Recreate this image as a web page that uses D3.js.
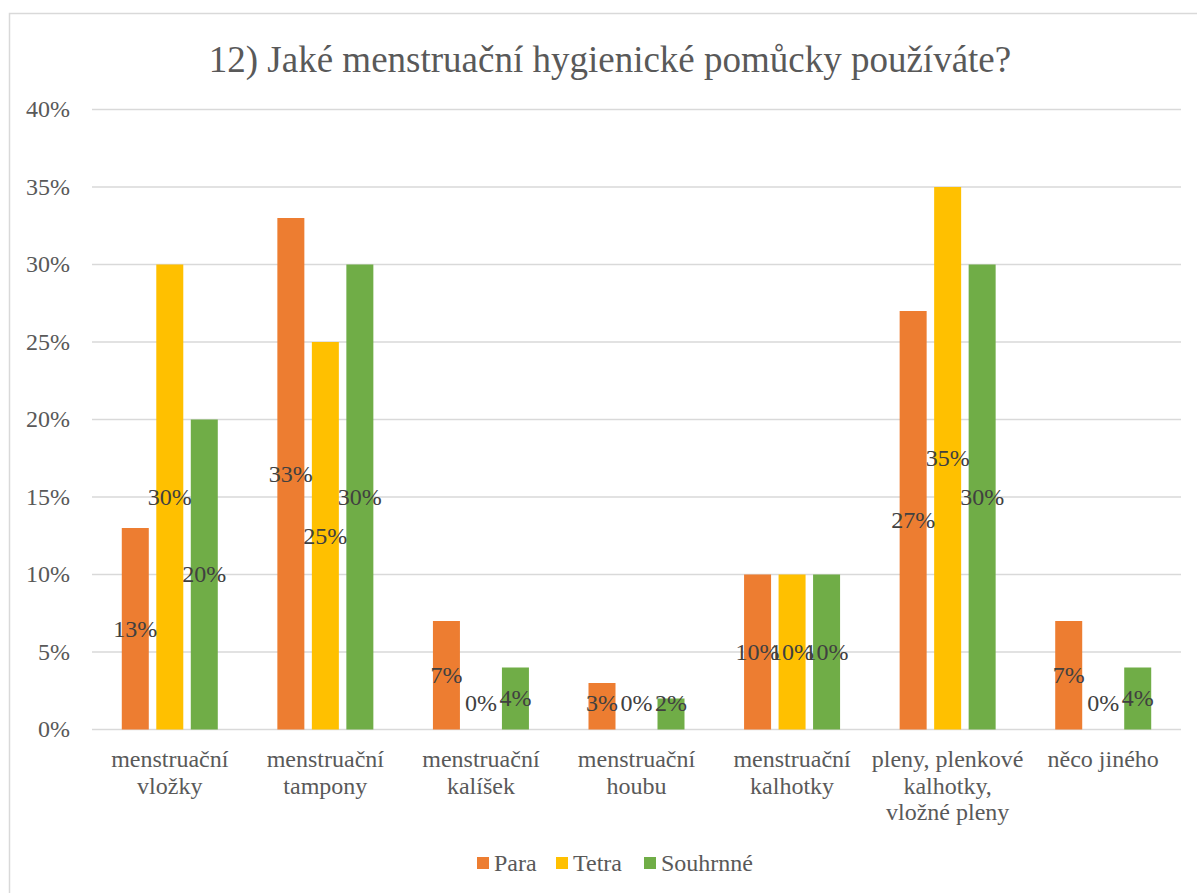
<!DOCTYPE html>
<html>
<head>
<meta charset="utf-8">
<script src="https://cdn.jsdelivr.net/npm/d3@7"></script>
<style>
  body { margin: 0; background: #fff; }
</style>
</head>
<body>
<svg id="chart" width="1197" height="893"></svg>
<script>
const categories = [
    ['menstruační', 'vložky'],
    ['menstruační', 'tampony'],
    ['menstruační', 'kalíšek'],
    ['menstruační', 'houbu'],
    ['menstruační', 'kalhotky'],
    ['pleny, plenkové', 'kalhotky,', 'vložné pleny'],
    ['něco jiného']
];
const seriesNames = ['Para', 'Tetra', 'Souhrnné'];
const para = [13, 33, 7, 3, 10, 27, 7];
const tetra = [30, 25, 0, 0, 10, 35, 0];
const souhrnne = [20, 30, 4, 2, 10, 30, 4];
const yTicks = [0, 5, 10, 15, 20, 25, 30, 35, 40];
const colors = ['#ED7D31', '#FFC000', '#70AD47'];
const FONT = "'Liberation Serif', 'Times New Roman', serif";

const svg = d3.select('#chart');
const margin = { top: 109.5, left: 92, right: 1181, bottom: 729.5 };

// chart frame
svg.append('path')
    .attr('d', 'M9.5,900 L9.5,13.5 L1200,13.5')
    .attr('fill', 'none')
    .attr('stroke', '#d9d9d9')
    .attr('stroke-width', 1.5);

svg.append('text')
    .attr('x', 610).attr('y', 72)
    .attr('text-anchor', 'middle')
    .attr('font-family', FONT)
    .attr('font-size', 37)
    .attr('fill', '#595959')
    .text('12) Jaké menstruační hygienické pomůcky používáte?');

const x = d3.scaleBand()
    .domain(d3.range(categories.length))
    .range([margin.left, margin.right]);

const y = d3.scaleLinear()
    .domain([0, 40])
    .range([margin.bottom, margin.top]);

// gridlines + y labels
const grid = svg.append('g');
yTicks.forEach(t => {
    grid.append('line')
        .attr('x1', margin.left).attr('x2', margin.right)
        .attr('y1', y(t)).attr('y2', y(t))
        .attr('stroke', '#d9d9d9')
        .attr('stroke-width', 1.5);
    grid.append('text')
        .attr('x', 70).attr('y', y(t))
        .attr('dy', '0.33em')
        .attr('text-anchor', 'end')
        .attr('font-family', FONT)
        .attr('font-size', 24)
        .attr('fill', '#595959')
        .text(t + '%');
});

const series = [para, tetra, souhrnne];
const barW = 27;
const step = 34.5;

series.forEach((vals, s) => {
    const g = svg.append('g');
    vals.forEach((v, i) => {
        const cx = x(i) + x.bandwidth() / 2 + (s - 1) * step;
        g.append('rect')
            .attr('x', cx - barW / 2)
            .attr('y', y(v))
            .attr('width', barW)
            .attr('height', y(0) - y(v))
            .attr('fill', colors[s]);
    });
});

// data labels, centred in the bar (Excel style), drawn on top
series.forEach((vals, s) => {
    vals.forEach((v, i) => {
        const cx = x(i) + x.bandwidth() / 2 + (s - 1) * step;
        const ly = Math.min((y(v) + y(0)) / 2, y(0) - 26);
        svg.append('text')
            .attr('x', cx).attr('y', ly)
            .attr('dy', '0.33em')
            .attr('text-anchor', 'middle')
            .attr('font-family', FONT)
            .attr('font-size', 24)
            .attr('fill', '#404040')
            .text(v + '%');
    });
});

// category labels
categories.forEach((lines, i) => {
    const t = svg.append('text')
        .attr('x', x(i) + x.bandwidth() / 2)
        .attr('y', 767)
        .attr('text-anchor', 'middle')
        .attr('font-family', FONT)
        .attr('font-size', 24)
        .attr('fill', '#595959');
    lines.forEach((l, k) => {
        t.append('tspan')
            .attr('x', x(i) + x.bandwidth() / 2)
            .attr('y', 767 + k * 26.5)
            .text(l);
    });
});

// legend
const legendX = [477, 556, 644];
seriesNames.forEach((n, s) => {
    svg.append('rect')
        .attr('x', legendX[s]).attr('y', 857)
        .attr('width', 12).attr('height', 12)
        .attr('fill', colors[s]);
    svg.append('text')
        .attr('x', legendX[s] + 17).attr('y', 863)
        .attr('dy', '0.33em')
        .attr('font-family', FONT)
        .attr('font-size', 24)
        .attr('fill', '#595959')
        .text(n);
});
</script>
</body>
</html>
